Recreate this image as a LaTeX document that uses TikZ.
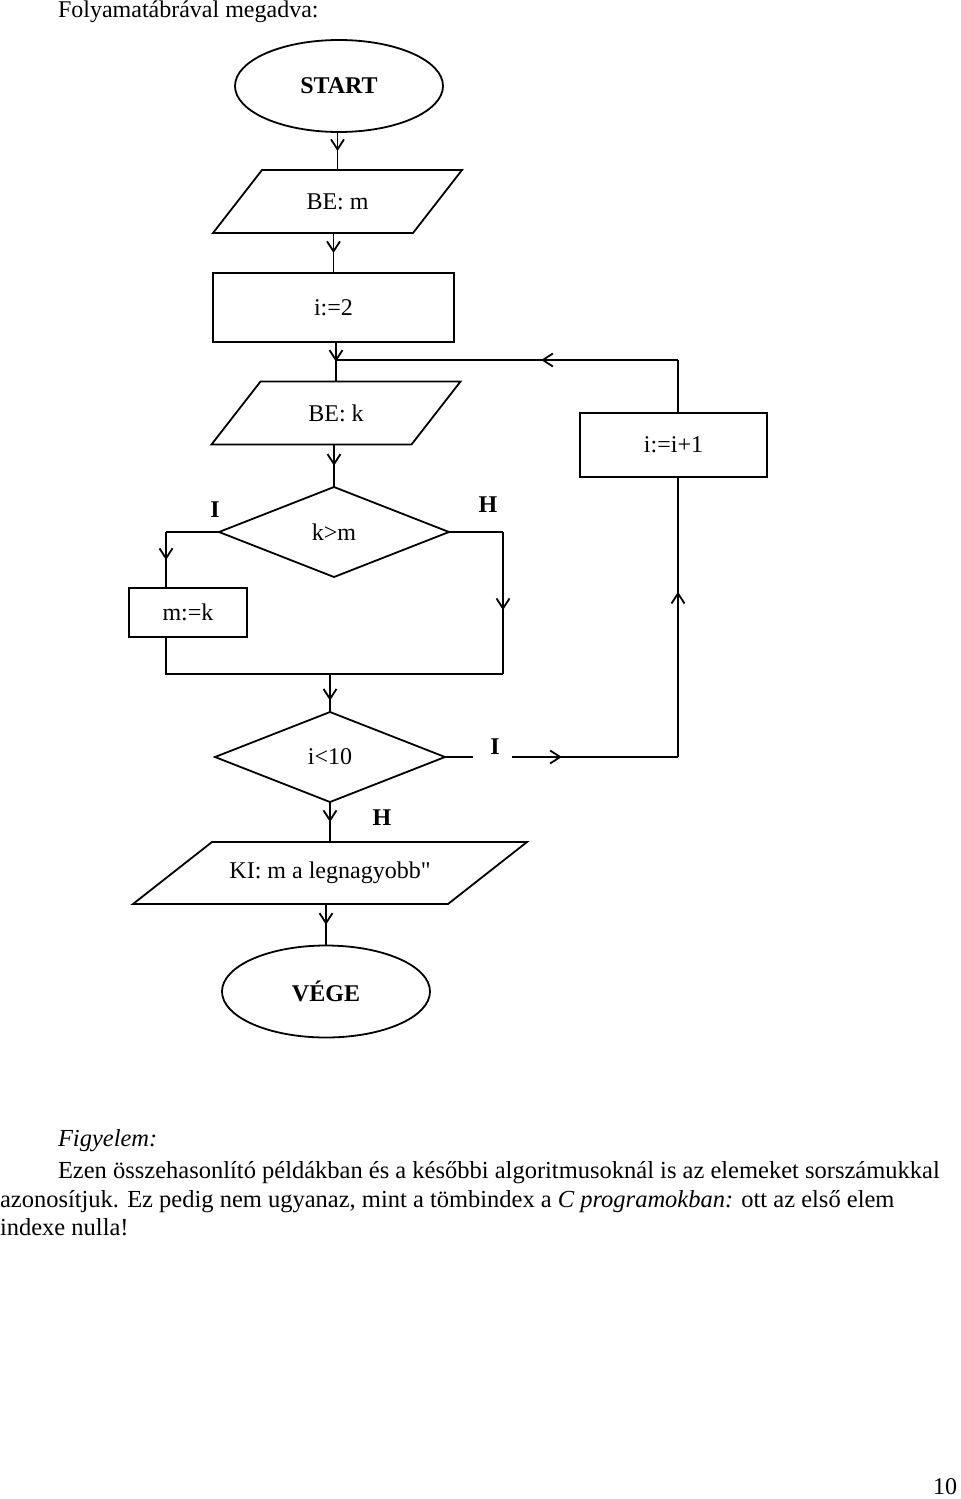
\documentclass[tikz,border=0pt]{standalone}
\usepackage{fontspec}
\setmainfont{Liberation Serif}
\newfontfamily\plainquote[Ligatures=TeXOff]{Liberation Serif}
\usetikzlibrary{shapes.geometric,arrows.meta,decorations.markings}

\begin{document}
\fontsize{12}{14.5}\selectfont
\begin{tikzpicture}[x=0.5pt, y=-0.5pt, line width=0.9pt]
\tikzset{ >={Straight Barb[length=5pt,width=6.5pt]}, inner sep=0pt, outer sep=0pt,
  midarrow/.style={postaction={decorate, decoration={markings,
      mark=at position #1 with {\arrow{>}}}}},
  midarrow/.default=0.5,
  term/.style={draw, ellipse, minimum width=104pt, minimum height=46pt, font=\bfseries},
  iobox/.style={append after command={\pgfextra{
      \draw ([xshift=#1]\tikzlastnode.north west) -- (\tikzlastnode.north east)
        -- ([xshift=-#1]\tikzlastnode.south east) -- (\tikzlastnode.south west) -- cycle;}}},
  io/.style={minimum width=124.5pt, minimum height=31.5pt, iobox=24.5pt},
  proc/.style={draw, rectangle},
  cond/.style={draw, diamond, minimum width=115pt, minimum height=45pt},
  lbl/.style={font=\bfseries},
  notetext/.style={anchor=base west, font=\fontsize{12.25}{14.5}\selectfont},
}

\useasboundingbox (0,0) rectangle (960,1499);
%\draw [lightgray, dashed](0,0) grid[step=100] (960,1499);

\node [anchor=base west] (title) at (58,18) {Folyamatábrával megadva:};

\node [term] (start) at (339,86) {START};
\node [io] (bem) at (337.5,201.5) {BE: m};
\node [proc, minimum width=120.5pt, minimum height=34.5pt] (i2) at (333.5,307.5) {i:=2};
\node [io] (bek) at (336,413) {BE: k};
\node [cond] (km) at (334,532) {k>m};
\node [proc, minimum width=59pt, minimum height=24.5pt] (mk) at (188,612.5) {m:=k};
\node [proc, minimum width=93.5pt, minimum height=32pt] (inc) at (673.5,445) {i:=i+1};
\node [cond] (i10) at (330,757) {i<10};
\node [minimum width=197pt, minimum height=31pt, iobox=39.5pt] (ki) at (330,873)
      {KI: m a legnagyobb{\plainquote"}};
\node [term] (vege) at (326,991.5) {VÉGE};

\node [lbl] (kmyes) at (215,510) {I};
\node [lbl] (kmno)  at (488,505) {H};
\node [lbl] (i10yes) at (495,747) {I};
\node [lbl] (i10no)  at (382,818) {H};

\coordinate (kmleft)  at (166,532);
\coordinate (kmright) at (503,532);
\coordinate (joinl) at (166,674);
\coordinate (joinr) at (503,674);
\coordinate (gapl) at (473,757);
\coordinate (gapr) at (512,757);
\coordinate (loopb) at (678,757);
\coordinate (loopt) at (678,360);

\draw [midarrow] (bem.north |- start.south) -- (bem.north);
\draw [midarrow] (i2.north |- bem.south) -- (i2.north);
\draw [midarrow] (bek.north |- i2.south) -- (bek.north);
\draw [midarrow] (km.north |- bek.south) -- (km.north);

\draw (km.west) -- (kmleft);
\draw [midarrow] (kmleft) -- (kmleft |- mk.north);
\draw (kmleft |- mk.south) -- (joinl) -- (joinr);
\draw (km.east) -- (kmright);
\draw [midarrow=0.55] (kmright) -- (joinr);
\draw [midarrow=0.7] (i10.north |- joinl) -- (i10.north);

\draw (i10.east) -- (gapl);
\draw [midarrow=0.3] (gapr) -- (loopb);
\draw [midarrow=0.59] (loopb) -- (loopb |- inc.south);
\draw (loopb |- inc.north) -- (loopt);
\draw [midarrow=0.4] (loopt) -- (bek.north |- loopt);

\draw [midarrow] (i10.south) -- (ki.north);
\draw [midarrow] (vege.north |- ki.south) -- (vege.north);

\node [notetext] (fig)   at (58,1146) {\itshape Figyelem:};
\node [notetext] (note1) at (58,1178) {Ezen összehasonlító példákban és a későbbi algoritmusoknál is az elemeket sorszámukkal};
\node [notetext] (note2) at (0,1207) {azonosítjuk. Ez pedig nem ugyanaz, mint a tömbindex a \textit{C programokban:} ott az első elem};
\node [notetext] (note3) at (0,1235) {indexe nulla!};

\node [anchor=base east] (page) at (957,1494) {10};

\end{tikzpicture}
\end{document}
